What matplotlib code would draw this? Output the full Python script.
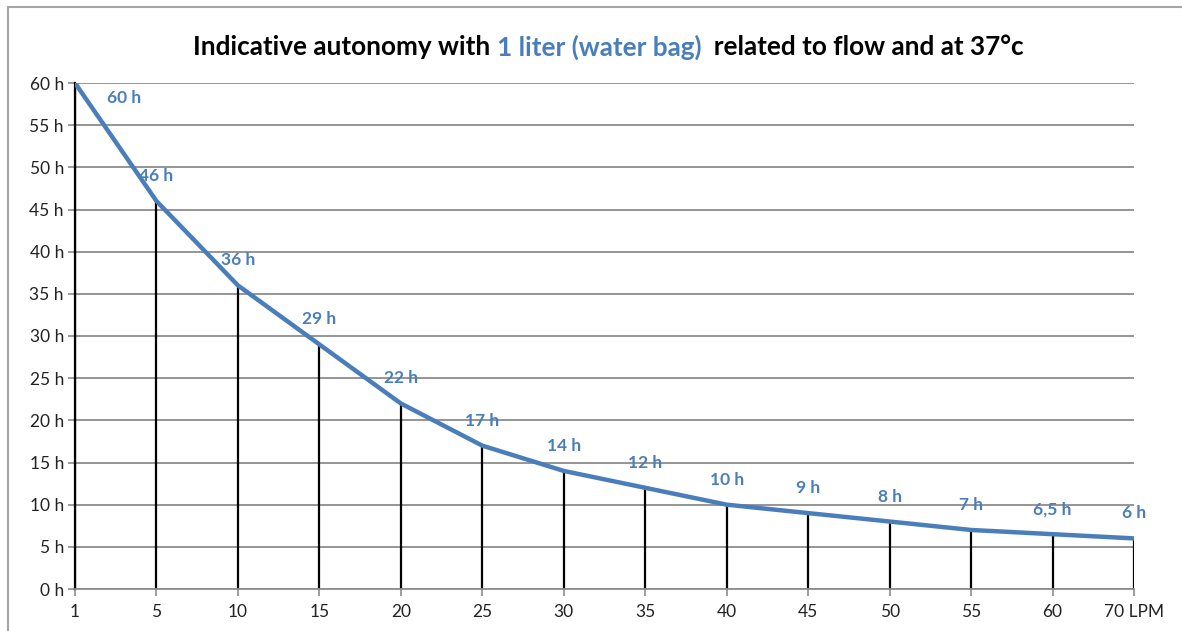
import matplotlib.pyplot as plt
from matplotlib.lines import Line2D

plt.rcParams['font.family'] = ['Lato', 'DejaVu Sans']

flow_labels = ["1", "5", "10", "15", "20", "25", "30", "35", "40", "45", "50", "55", "60", "70 LPM"]
hours = [60, 46, 36, 29, 22, 17, 14, 12, 10, 9, 8, 7, 6.5, 6]
point_labels = ["60 h", "46 h", "36 h", "29 h", "22 h", "17 h", "14 h", "12 h", "10 h",
                "9 h", "8 h", "7 h", "6,5 h", "6 h"]
y_ticks = list(range(0, 61, 5))

blue = "#4A7EBB"
grid_gray = "#8C8C8C"

W, H = 1182, 631
fig = plt.figure(figsize=(W / 100, H / 100), dpi=100)
ax = fig.add_axes([75 / W, 1 - 589 / H, (1134 - 75) / W, (589 - 83) / H])

x = list(range(len(hours)))
ax.set_xlim(0, len(hours) - 1)
ax.set_ylim(0, 60)

for yt in y_ticks:
    ax.axhline(yt, color=grid_gray, lw=1.3, zorder=1)

ax.vlines(x, 0, hours, colors="black", lw=1.6, zorder=2)
ax.plot(x, hours, color=blue, lw=3.2, solid_capstyle="butt", zorder=3)

for i, (xi, h, lab) in enumerate(zip(x, hours, point_labels)):
    off = (35, -11) if i == 0 else (0, 18)
    ax.annotate(lab, (xi, h), xytext=off, textcoords="offset points",
                ha="center", va="center", color=blue, fontsize=12.5, fontweight="bold")

ax.set_yticks(y_ticks)
ax.set_yticklabels([f"{v} h" for v in y_ticks], fontsize=12.5, color="#222222")
ax.set_xticks(x)
ax.set_xticklabels(flow_labels, fontsize=12.5, color="#222222")
ax.tick_params(axis="both", color=grid_gray, length=5, width=1.2)
ax.tick_params(axis="x", pad=6)
ax.tick_params(axis="y", pad=3)

for side in ["top", "right"]:
    ax.spines[side].set_visible(False)
ax.spines["left"].set_color("black")
ax.spines["left"].set_linewidth(1.6)
ax.spines["bottom"].set_color(grid_gray)
ax.spines["bottom"].set_linewidth(1.3)

# title with coloured middle part
fig.canvas.draw()
r = fig.canvas.get_renderer()
parts = [("Indicative autonomy with ", "black"), ("1 liter (water bag)", blue),
         ("  related to flow and at 37°c", "black")]
xpos = 193 / W
for s, c in parts:
    t = fig.text(xpos, 1 - 47 / H, s, fontsize=18.8, fontweight="bold", ha="left",
                 va="center", color=c)
    bb = t.get_window_extent(renderer=r)
    xpos += bb.width / W

# outer frame
fig.add_artist(Line2D([8 / W, 8 / W], [0, 1 - 7 / H], color="#A6A6A6", lw=1.5))
fig.add_artist(Line2D([8 / W, 1], [1 - 7 / H, 1 - 7 / H], color="#A6A6A6", lw=1.5))

fig.savefig("out.png", dpi=100)
